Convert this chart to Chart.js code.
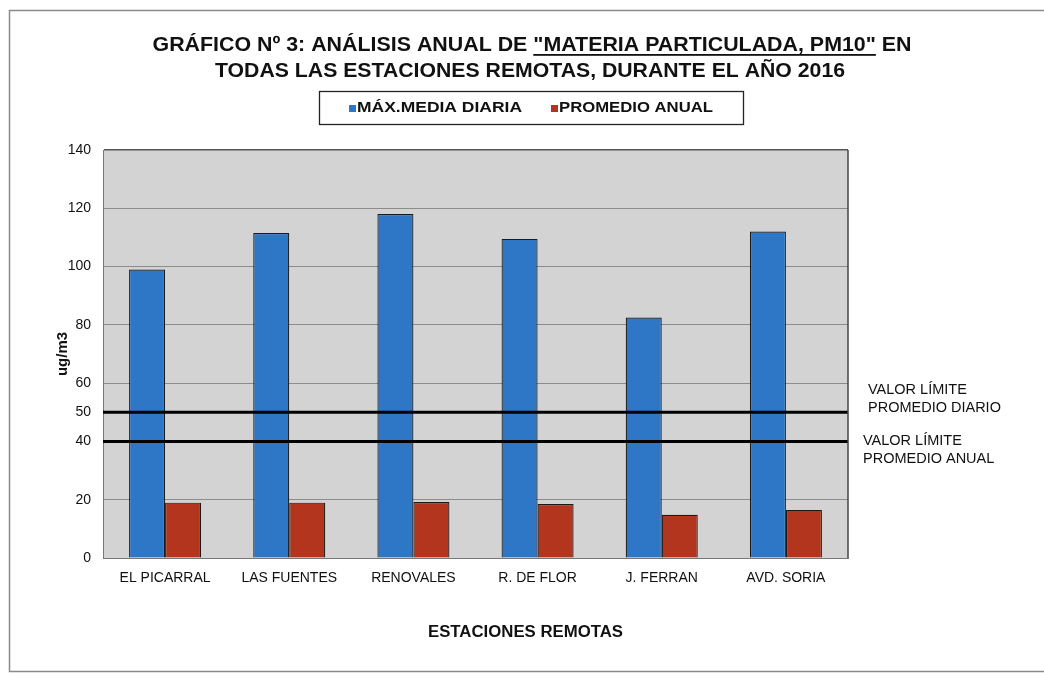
<!DOCTYPE html>
<html>
<head>
<meta charset="utf-8">
<script src="https://cdn.jsdelivr.net/npm/chart.js@4/dist/chart.umd.min.js"></script>
<style>
  html, body { margin: 0; padding: 0; background: #fff; }
  #wrap { width: 1044px; height: 675px; }
</style>
</head>
<body>
<div id="wrap"><canvas id="pmChart" width="1044" height="675"></canvas></div>
<script>
// data
const stations = ["EL PICARRAL", "LAS FUENTES", "RENOVALES", "R. DE FLOR", "J. FERRAN", "AVD. SORIA"];
const maxDaily = [99, 111.5, 118, 109.5, 82.5, 112];
const annualAvg = [19, 19, 19.2, 18.5, 14.8, 16.5];
const seriesNames = ["MÁX.MEDIA DIARIA", "PROMEDIO ANUAL"];
const yTicks = [0, 20, 40, 50, 60, 80, 100, 120, 140];
const limitValues = [50, 40];
const limitLabels = [["VALOR LÍMITE", "PROMEDIO DIARIO"], ["VALOR LÍMITE", "PROMEDIO ANUAL"]];
const titleLines = [
    ["GRÁFICO Nº 3: ANÁLISIS ANUAL DE ", "\"MATERIA PARTICULADA, PM10\"", " EN"],
    ["TODAS LAS ESTACIONES REMOTAS, DURANTE EL AÑO 2016"]
];
const xTitle = "ESTACIONES REMOTAS";

const FONT = "'Liberation Sans', Arial, sans-serif";
const BLUE = "#2e77c7";
const RED = "#b3351d";

// draw text squeezed/stretched to a given width
function fitText(ctx, text, x, y, width) {
    const sx = width / ctx.measureText(text).width;
    ctx.save();
    ctx.translate(x, y);
    ctx.scale(sx, 1);
    ctx.fillText(text, 0, 0);
    ctx.restore();
}

// background, frame, title (with underline), legend box
const decorPlugin = {
    id: "decor",
    beforeDraw(chart) {
        const ctx = chart.ctx;
        const a = chart.chartArea;
        ctx.save();
        ctx.fillStyle = "#ffffff";
        ctx.fillRect(0, 0, chart.width, chart.height);
        ctx.strokeStyle = "#8a8a8a";
        ctx.lineWidth = 1.5;
        ctx.beginPath();
        ctx.moveTo(chart.width + 5, 10.5);
        ctx.lineTo(9.5, 10.5);
        ctx.lineTo(9.5, 671.5);
        ctx.lineTo(chart.width + 5, 671.5);
        ctx.stroke();
        ctx.fillStyle = "#d3d3d3";
        ctx.fillRect(a.left, a.top, a.right - a.left, a.bottom - a.top);
        ctx.restore();
    },
    afterDraw(chart) {
        const ctx = chart.ctx;
        ctx.save();
        // title
        ctx.fillStyle = "#111";
        ctx.font = "bold 20px " + FONT;
        ctx.textBaseline = "alphabetic";
        const widths = [759, 630];
        const centers = [532, 530];
        const baselines = [51, 77];
        titleLines.forEach((parts, i) => {
            const full = parts.join("");
            const sx = widths[i] / ctx.measureText(full).width;
            let x = centers[i] - widths[i] / 2;
            parts.forEach((p, j) => {
                const w = ctx.measureText(p).width * sx;
                fitText(ctx, p, x, baselines[i], w);
                if (i === 0 && j === 1) {
                    ctx.fillRect(x, baselines[i] + 3, w, 1.8);
                }
                x += w;
            });
        });
        // legend box
        ctx.strokeStyle = "#222";
        ctx.lineWidth = 1.3;
        ctx.strokeRect(319.5, 91.5, 424, 33);
        ctx.font = "bold 15px " + FONT;
        const legendX = [349, 551];
        const legendW = [165, 154];
        chart.data.datasets.forEach((ds, i) => {
            ctx.fillStyle = ds.backgroundColor;
            ctx.fillRect(legendX[i], 105, 7, 7);
            ctx.fillStyle = "#111";
            fitText(ctx, ds.label, legendX[i] + 8, 112, legendW[i]);
        });
        // x axis title, centred on the whole figure
        ctx.font = "bold 16px " + FONT;
        fitText(ctx, xTitle, 428, 637, 195);
        // right border of plot
        const a = chart.chartArea;
        ctx.strokeStyle = "#444";
        ctx.lineWidth = 1.5;
        ctx.beginPath();
        ctx.moveTo(a.right, a.top);
        ctx.lineTo(a.right, a.bottom);
        ctx.stroke();
        ctx.restore();
    }
};

// limit lines at 50 and 40 with their notes on the right
const limitPlugin = {
    id: "limits",
    afterDatasetsDraw(chart) {
        const ctx = chart.ctx;
        const a = chart.chartArea;
        const y = chart.scales.y;
        ctx.save();
        ctx.strokeStyle = "#000";
        ctx.lineWidth = 3;
        limitValues.forEach(v => {
            const py = y.getPixelForValue(v);
            ctx.beginPath();
            ctx.moveTo(a.left, py);
            ctx.lineTo(a.right, py);
            ctx.stroke();
        });
        ctx.fillStyle = "#111";
        ctx.font = "14.5px " + FONT;
        ctx.textBaseline = "middle";
        const textX = [868, 863];
        const offs = [-22, 0];
        limitLabels.forEach((lines, i) => {
            const py = y.getPixelForValue(limitValues[i]) + offs[i];
            lines.forEach((t, k) => {
                ctx.fillText(t, textX[i], py + k * 18);
            });
        });
        ctx.restore();
    }
};

new Chart(document.getElementById("pmChart"), {
    type: "bar",
    data: {
        labels: stations,
        datasets: [
            {
                label: seriesNames[0],
                data: maxDaily,
                backgroundColor: BLUE,
                borderColor: "#1a1a1a",
                borderWidth: 1.2,
                categoryPercentage: 0.58,
                barPercentage: 1.0
            },
            {
                label: seriesNames[1],
                data: annualAvg,
                backgroundColor: RED,
                borderColor: "#1a1a1a",
                borderWidth: 1.2,
                categoryPercentage: 0.58,
                barPercentage: 1.0
            }
        ]
    },
    options: {
        responsive: false,
        animation: false,
        devicePixelRatio: 1,
        layout: { padding: { top: 150, right: 196, bottom: 0, left: 0 } },
        plugins: {
            legend: { display: false },
            title: { display: false },
            tooltip: { enabled: false }
        },
        scales: {
            x: {
                afterFit: s => { s.height = 117; },
                grid: { display: false },
                border: { color: "#777", width: 1 },
                ticks: { color: "#111", font: { family: FONT, size: 14 }, padding: 4, maxRotation: 0 }
            },
            y: {
                min: 0,
                max: 140,
                afterFit: s => { s.width = 103; },
                afterBuildTicks: s => { s.ticks = yTicks.map(v => ({ value: v })); },
                grid: {
                    drawTicks: false,
                    color: ctx => {
                        const v = ctx.tick ? ctx.tick.value : null;
                        if (v === 50) return "rgba(0,0,0,0)";
                        if (v === 140) return "#555";
                        return "#8c8c8c";
                    },
                    lineWidth: ctx => (ctx.tick && ctx.tick.value === 140 ? 1.6 : 1)
                },
                border: { color: "#777", width: 1 },
                ticks: { color: "#111", font: { family: FONT, size: 14 }, padding: 12 },
                title: {
                    display: true,
                    text: "ug/m3",
                    color: "#111",
                    font: { family: FONT, size: 15, weight: "bold" },
                    padding: { top: 54, bottom: 0 }
                }
            }
        }
    },
    plugins: [decorPlugin, limitPlugin]
});
</script>
</body>
</html>
